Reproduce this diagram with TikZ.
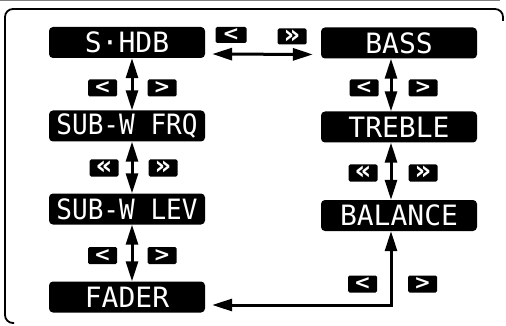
\documentclass[tikz,border=0pt]{standalone}
\usepackage{fontspec}
\usepackage{graphicx}
\usetikzlibrary{arrows.meta}
\newfontfamily\lcdfont{DejaVu Sans Mono}
\newfontfamily\btnfont{DejaVu Sans}
\begin{document}
\begin{tikzpicture}[x=1pt,y=-1pt,
  lcd/.style={fill=black,text=white,rounded corners=4pt,minimum width=156pt,minimum height=31pt,inner sep=0pt,font={\lcdfont\fontsize{28}{28}\selectfont}},
  btn/.style={fill=black,text=white,rounded corners=1.5pt,minimum width=29pt,minimum height=17pt,inner sep=0pt,font={\btnfont\bfseries\fontsize{20}{20}\selectfont}},
  dbtn/.style={btn,font={\btnfont\bfseries\fontsize{26}{26}\selectfont}},
  conn/.style={line width=3pt,{Triangle[length=20pt,width=12pt]}-{Triangle[length=20pt,width=12pt]}},
  frame/.style={line width=1.8pt,rounded corners=8pt}]
\useasboundingbox (0,0) rectangle (506,326);
% frame
\draw[gray,line width=1pt] (0,1) -- (500,1);
\draw[frame] (14,323) -- (5,323) -- (5,9) -- (503,9) -- (503,21);
% display boxes
\node[lcd] (shdb) at (127,42.5) {S·HDB};
\node[lcd] (frq) at (127,126) {\scalebox{0.93}[1]{SUB-W FRQ}};
\node[lcd] (lev) at (127,209) {\scalebox{0.93}[1]{SUB-W LEV}};
\node[lcd] (fader) at (127,297) {FADER};
\node[lcd] (bass) at (399,43) {BASS};
\node[lcd] (treble) at (399,127) {TREBLE};
\node[lcd] (balance) at (399,215.5) {BALANCE};
% buttons
\node[btn,minimum width=31pt,minimum height=16pt] (t1) at (231,35) {<};
\node[dbtn,minimum width=29pt,minimum height=16pt] (t2) at (292,36.5) {»};
\node[btn] (la1) at (102.5,88) {<};
\node[btn] (la2) at (162,88) {>};
\node[dbtn] (lb1) at (104,168) {«};
\node[dbtn] (lb2) at (163,168) {»};
\node[btn] (lc1) at (102.5,255.5) {<};
\node[btn] (lc2) at (162,255.5) {>};
\node[btn] (ra1) at (364,88) {<};
\node[btn] (ra2) at (423,88) {>};
\node[dbtn] (rb1) at (363,173) {«};
\node[dbtn] (rb2) at (423,173) {»};
\node[btn] (rc1) at (362.5,284) {<};
\node[btn] (rc2) at (422.5,284) {>};
% connectors
\draw[conn] ([xshift=5pt]shdb.south) -- ([xshift=5pt]frq.north);
\draw[conn] ([xshift=5pt]frq.south) -- ([xshift=5pt]lev.north);
\draw[conn] ([xshift=5pt]lev.south) -- ([xshift=5pt]fader.north);
\draw[conn] ([xshift=-8pt]bass.south) -- ([xshift=-8pt]treble.north);
\draw[conn] ([xshift=-8pt]treble.south) -- ([xshift=-8pt]balance.north);
\draw[conn,shorten <=7pt,shorten >=8pt] ([yshift=-11.5pt]shdb.east) -- ([yshift=-11.5pt]bass.west);
\draw[conn,shorten <=7pt] ([yshift=-8pt]fader.east) -| ([xshift=-8pt]balance.south);
\end{tikzpicture}
\end{document}
